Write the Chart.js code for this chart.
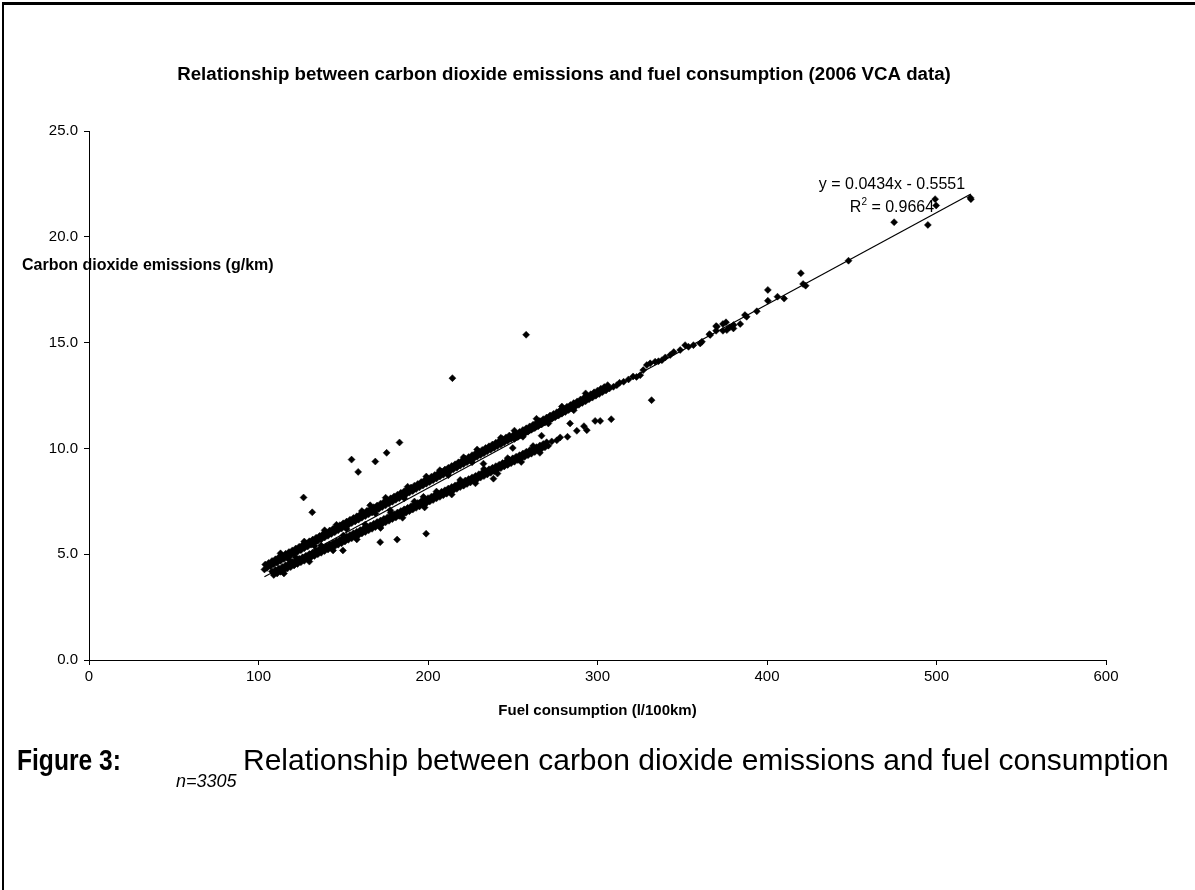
<!DOCTYPE html>
<html>
<head>
<meta charset="utf-8">
<title>CO2 emissions vs fuel consumption</title>
<script src="https://cdn.jsdelivr.net/npm/chart.js@4.4.1/dist/chart.umd.min.js"></script>
<style>
  html, body { margin: 0; padding: 0; background: #fff; }
  #page { position: relative; width: 1195px; height: 890px; overflow: hidden; background: #fff; }
  #frameTop { position: absolute; left: 2px; top: 2px; width: 1193px; height: 3px; background: #000; }
  #frameLeft { position: absolute; left: 2px; top: 2px; width: 2px; height: 888px; background: #000; }
  #chart { position: absolute; left: 0; top: 0; }
  .cap { position: absolute; white-space: nowrap; color: #000;
         font-family: "Liberation Sans", Arial, sans-serif; }
  #figLabel { left: 17px; top: 745px; font-size: 30px; line-height: 30px; font-weight: bold;
              transform: scaleX(0.82); transform-origin: 0 0; }
  #figText { left: 243px; top: 745px; font-size: 30px; line-height: 30px; }
  #figN { left: 176px; top: 772px; font-size: 18px; line-height: 18px; font-style: italic; }
</style>
</head>
<body>
<div id="page">
  <div id="frameTop"></div>
  <div id="frameLeft"></div>
  <canvas id="chart" width="1195" height="890"></canvas>
  <div class="cap" id="figLabel">Figure 3:</div>
  <div class="cap" id="figText">Relationship between carbon dioxide emissions and fuel consumption</div>
  <div class="cap" id="figN">n=3305</div>
</div>
<script>
// ---- axis ticks ----
const fuelTicks = [0, 100, 200, 300, 400, 500, 600];
const co2Ticks = [0, 5, 10, 15, 20, 25];

// ---- linear trendline (Excel fit) ----
const trendSlope = 0.0434;
const trendIntercept = -0.5551;
const trendR2 = 0.9664;

// ---- upper cluster of vehicles [x, y] ----
const upperBand = [
  [104,4.51],[105,4.35],[106,4.59],[107,4.43],[108,4.68],[109,4.52],[110,4.76],[111,4.60],
  [112,4.85],[113,4.69],[114,4.93],[115,4.77],[116,5.02],[117,4.86],[118,5.10],[119,4.94],
  [120,5.18],[121,5.02],[122,5.27],[123,5.11],[124,5.35],[125,5.19],[126,5.44],[127,5.28],
  [128,5.52],[129,5.36],[130,5.61],[131,5.45],[132,5.69],[133,5.53],[134,5.78],[135,5.62],
  [136,5.86],[137,5.70],[138,5.95],[139,5.79],[140,6.03],[141,5.87],[142,6.12],[143,5.96],
  [144,6.20],[145,6.04],[146,6.29],[147,6.13],[148,6.37],[149,6.21],[150,6.46],[151,6.30],
  [152,6.54],[153,6.38],[154,6.63],[155,6.47],[156,6.71],[157,6.55],[158,6.79],[159,6.63],
  [160,6.88],[161,6.72],[162,6.96],[163,6.80],[164,7.05],[165,6.89],[166,7.13],[167,6.97],
  [168,7.22],[169,7.06],[170,7.30],[171,7.14],[172,7.39],[173,7.23],[174,7.47],[175,7.31],
  [176,7.56],[177,7.40],[178,7.64],[179,7.48],[180,7.73],[181,7.57],[182,7.81],[183,7.65],
  [184,7.90],[185,7.74],[186,7.98],[187,7.82],[188,8.07],[189,7.91],[190,8.15],[191,7.99],
  [192,8.24],[193,8.08],[194,8.32],[195,8.16],[196,8.41],[197,8.25],[198,8.49],[199,8.33],
  [200,8.57],[201,8.41],[202,8.66],[203,8.50],[204,8.74],[205,8.58],[206,8.83],[207,8.67],
  [208,8.91],[209,8.75],[210,9.00],[211,8.84],[212,9.08],[213,8.92],[214,9.17],[215,9.01],
  [216,9.25],[217,9.09],[218,9.34],[219,9.18],[220,9.42],[221,9.26],[222,9.51],[223,9.35],
  [224,9.59],[225,9.43],[226,9.68],[227,9.52],[228,9.76],[229,9.60],[230,9.85],[231,9.69],
  [232,9.93],[233,9.77],[234,10.02],[235,9.86],[236,10.10],[237,9.94],[238,10.18],[239,10.02],
  [240,10.27],[241,10.11],[242,10.35],[243,10.19],[244,10.44],[245,10.28],[246,10.52],[247,10.36],
  [248,10.61],[249,10.45],[250,10.61],[251,10.45],[252,10.70],[253,10.54],[254,10.78],[255,10.62],
  [256,10.87],[257,10.71],[258,10.95],[259,10.79],[260,11.04],[261,10.88],[262,11.12],[263,10.96],
  [264,11.21],[265,11.05],[266,11.29],[267,11.13],[268,11.38],[269,11.22],[270,11.46],[271,11.30],
  [272,11.55],[273,11.39],[274,11.63],[275,11.47],[276,11.71],[277,11.55],[278,11.80],[279,11.64],
  [280,11.88],[281,11.72],[282,11.97],[283,11.81],[284,12.05],[285,11.89],[286,12.14],[287,11.98],
  [288,12.22],[289,12.06],[290,12.31],[291,12.15],[292,12.39],[293,12.23],[294,12.48],[295,12.32],
  [296,12.56],[297,12.40],[298,12.65],[299,12.49],[300,12.73],[301,12.57],[302,12.82],[303,12.66],
  [304,12.90],[305,12.74],[306,12.99],[307,12.83],
  // ragged edges of the cluster
  [113,5.04],[127,5.60],[139,6.13],[146,6.39],[161,7.04],[175,7.67],[188,8.19],[199,8.67],
  [207,8.97],[221,9.58],[229,9.95],[243,10.50],[251,10.84],[264,11.40],[279,11.98],[293,12.60],
  [118,4.74],[133,5.39],[152,6.19],[169,6.92],[186,7.64],[212,8.73],[226,9.34],[256,10.55],
  [271,11.18],[286,11.80],
  // sparser upper tail
  [309.4,12.91],[311.4,12.99],[313,13.10],[315.4,13.15],[318.3,13.26],[321,13.40],[323,13.38],
  [325.2,13.46],[327,13.70],[329.1,13.94],[331.1,14.02],[334,14.10],[336,14.12],[338,14.17],
  [340,14.30],[342.9,14.41],[345,14.55],[348.8,14.65],[351.7,14.88],[353.7,14.80],[356.6,14.88],
  [360.6,14.96],[361.6,15.04],[366,15.40],[366.5,15.36],[370,15.78],[370,15.56],[370.4,15.75],
  [374,15.88],[374,15.56],[375.8,15.96],[376.3,15.59],[378,15.72],[380.2,15.67],[380.3,15.83],
  [384.2,15.88],[387,16.30],[388,16.22],[394,16.48],[400.5,17.49],[400.5,16.98],[406.2,17.17],
  [410.1,17.08],[420,18.28],[421.3,17.77],[422.8,17.69],[448.1,18.87],[475,20.69],[494.9,20.56],
  [499.2,21.78],[499.8,21.48],[520.3,21.78],[520,21.85]
];

// ---- lower cluster of vehicles [x, y] ----
const lowerBand = [
  [108,4.18],[109,4.02],[110,4.25],[111,4.09],[112,4.33],[113,4.17],[114,4.40],[115,4.24],
  [116,4.48],[117,4.32],[118,4.55],[119,4.39],[120,4.63],[121,4.47],[122,4.70],[123,4.54],
  [124,4.78],[125,4.62],[126,4.85],[127,4.69],[128,4.93],[129,4.77],[130,5.01],[131,4.85],
  [132,5.08],[133,4.92],[134,5.16],[135,5.00],[136,5.23],[137,5.07],[138,5.31],[139,5.15],
  [140,5.38],[141,5.22],[142,5.46],[143,5.30],[144,5.53],[145,5.37],[146,5.61],[147,5.45],
  [148,5.68],[149,5.52],[150,5.76],[151,5.60],[152,5.84],[153,5.68],[154,5.91],[155,5.75],
  [156,5.99],[157,5.83],[158,6.06],[159,5.90],[160,6.14],[161,5.98],[162,6.21],[163,6.05],
  [164,6.29],[165,6.13],[166,6.36],[167,6.20],[168,6.44],[169,6.28],[170,6.52],[171,6.36],
  [172,6.59],[173,6.43],[174,6.67],[175,6.51],[176,6.74],[177,6.58],[178,6.82],[179,6.66],
  [180,6.89],[181,6.73],[182,6.97],[183,6.81],[184,7.04],[185,6.88],[186,7.12],[187,6.96],
  [188,7.19],[189,7.03],[190,7.27],[191,7.11],[192,7.35],[193,7.19],[194,7.42],[195,7.26],
  [196,7.50],[197,7.34],[198,7.57],[199,7.41],[200,7.65],[201,7.49],[202,7.72],[203,7.56],
  [204,7.80],[205,7.64],[206,7.87],[207,7.71],[208,7.95],[209,7.79],[210,8.02],[211,7.86],
  [212,8.10],[213,7.94],[214,8.18],[215,8.02],[216,8.25],[217,8.09],[218,8.33],[219,8.17],
  [220,8.40],[221,8.24],[222,8.48],[223,8.32],[224,8.55],[225,8.39],[226,8.63],[227,8.47],
  [228,8.70],[229,8.54],[230,8.78],[231,8.62],[232,8.85],[233,8.69],[234,8.93],[235,8.77],
  [236,9.01],[237,8.85],[238,9.08],[239,8.92],[240,9.16],[241,9.00],[242,9.23],[243,9.07],
  [244,9.31],[245,9.15],[246,9.38],[247,9.22],[248,9.46],[249,9.30],[250,9.53],[251,9.37],
  [252,9.61],[253,9.45],[254,9.68],[255,9.52],[256,9.76],[257,9.60],[258,9.84],[259,9.68],
  [260,9.91],[261,9.75],[262,9.99],[263,9.83],[264,10.06],[265,9.90],[266,10.14],[267,9.98],
  [268,10.21],[269,10.05],[270,10.29],[271,10.13],[273,10.33],[276,10.38],[278,10.52],
  // ragged edges of the cluster
  [122,4.84],[137,5.41],[150,5.88],[163,6.40],[178,6.96],[192,7.49],[205,7.96],[219,8.51],
  [233,9.03],[247,9.54],[262,10.11],
  [115,4.09],[130,4.65],[144,5.18],[158,5.70],[172,6.24],[185,6.72],[198,7.21],[214,7.82],
  [228,8.35],[241,8.81],[255,9.36],[266,9.79],
  // sparser lower tail
  [282.3,10.55],[283.8,11.18],[287.8,10.83],[292,11.05],[293.7,10.86],[298.6,11.30],
  [301.6,11.30],[308.1,11.38]
];

// ---- isolated vehicles [x, y] ----
const scattered = [
  [103.5,4.28],[108.9,4.60],[126.6,7.68],[131.7,6.98],[149.8,5.18],[154.9,9.47],[158.8,8.89],
  [165.9,7.31],[168.9,9.38],[171.8,5.57],[175.6,9.79],[177.7,7.08],[181.8,5.69],[183.2,10.28],
  [197.3,7.71],[198.9,5.97],[214.4,13.32],[232.7,9.28],[238.6,8.57],[250.0,10.02],[257.9,15.37],
  [267.0,10.60],[331.9,12.28]
];

// ---- text ----
const chartTitle = 'Relationship between carbon dioxide emissions and fuel consumption (2006 VCA data)';
const xTitle = 'Fuel consumption (l/100km)';
const yTitle = 'Carbon dioxide emissions (g/km)';

const FONT = '"Liberation Sans", Arial, sans-serif';

const toPts = arr => arr.map(([x, y]) => ({ x, y }));
const allX = [...upperBand, ...lowerBand, ...scattered].map(p => p[0]);
const xMin = Math.min(...allX), xMax = Math.max(...allX);
const trendPts = [xMin, xMax].map(x => ({ x, y: trendSlope * x + trendIntercept }));

const markerStyle = {
  pointStyle: 'rectRot', pointRadius: 3.5, pointHoverRadius: 3.5,
  backgroundColor: '#000', borderColor: '#000', borderWidth: 0.5, showLine: false
};

const textPlugin = {
  id: 'chartTexts',
  afterDraw(chart) {
    const c = chart.ctx, area = chart.chartArea;
    c.save();
    c.fillStyle = '#000';
    c.textBaseline = 'middle';

    c.textAlign = 'center';
    c.font = `bold 18.7px ${FONT}`;
    c.fillText(chartTitle, 564, 75);

    c.font = `bold 15px ${FONT}`;
    c.fillText(xTitle, (area.left + area.right) / 2, 711);

    c.textAlign = 'left';
    c.font = `bold 16px ${FONT}`;
    c.fillText(yTitle, 22, 266);

    // trendline equation and R²
    const eqX = 892;
    const sign = trendIntercept < 0 ? '-' : '+';
    const eq = `y = ${trendSlope.toFixed(4)}x ${sign} ${Math.abs(trendIntercept).toFixed(4)}`;
    c.textAlign = 'center';
    c.font = `16px ${FONT}`;
    c.fillText(eq, eqX, 185);

    c.textAlign = 'left';
    const rest = ` = ${trendR2.toFixed(4)}`;
    const wR = c.measureText('R').width;
    const wRest = c.measureText(rest).width;
    c.font = `10px ${FONT}`;
    const w2 = c.measureText('2').width;
    const x0 = eqX - (wR + w2 + wRest) / 2;
    c.font = `16px ${FONT}`;
    c.fillText('R', x0, 208);
    c.font = `10px ${FONT}`;
    c.fillText('2', x0 + wR, 202);
    c.font = `16px ${FONT}`;
    c.fillText(rest, x0 + wR + w2, 208);
    c.restore();
  }
};

const axisCommon = {
  type: 'linear',
  grid: { drawOnChartArea: false, drawTicks: true, tickLength: 5, color: '#000', lineWidth: 1 },
  border: { display: true, color: '#000', width: 1 }
};

new Chart(document.getElementById('chart').getContext('2d'), {
  type: 'scatter',
  data: {
    datasets: [
      { type: 'line', data: trendPts, borderColor: '#000', borderWidth: 1.2,
        pointRadius: 0, fill: false, tension: 0 },
      { data: toPts(scattered), ...markerStyle },
      { data: toPts(upperBand), ...markerStyle },
      { data: toPts(lowerBand), ...markerStyle }
    ]
  },
  options: {
    responsive: false,
    animation: false,
    devicePixelRatio: 1,
    layout: { padding: { left: 0, top: 131, right: 89, bottom: 170 } },
    plugins: { legend: { display: false }, tooltip: { enabled: false }, title: { display: false } },
    scales: {
      x: {
        ...axisCommon,
        min: fuelTicks[0], max: fuelTicks[fuelTicks.length - 1],
        ticks: { stepSize: fuelTicks[1] - fuelTicks[0], color: '#000', padding: 3, maxRotation: 0,
                 font: { family: FONT, size: 15 } },
        afterFit(s) { s.height = 60; }
      },
      y: {
        ...axisCommon,
        min: co2Ticks[0], max: co2Ticks[co2Ticks.length - 1],
        ticks: { stepSize: co2Ticks[1] - co2Ticks[0], color: '#000', padding: 6,
                 font: { family: FONT, size: 15 }, callback: v => Number(v).toFixed(1) },
        afterFit(s) { s.width = 89; }
      }
    }
  },
  plugins: [textPlugin]
});
</script>
</body>
</html>
